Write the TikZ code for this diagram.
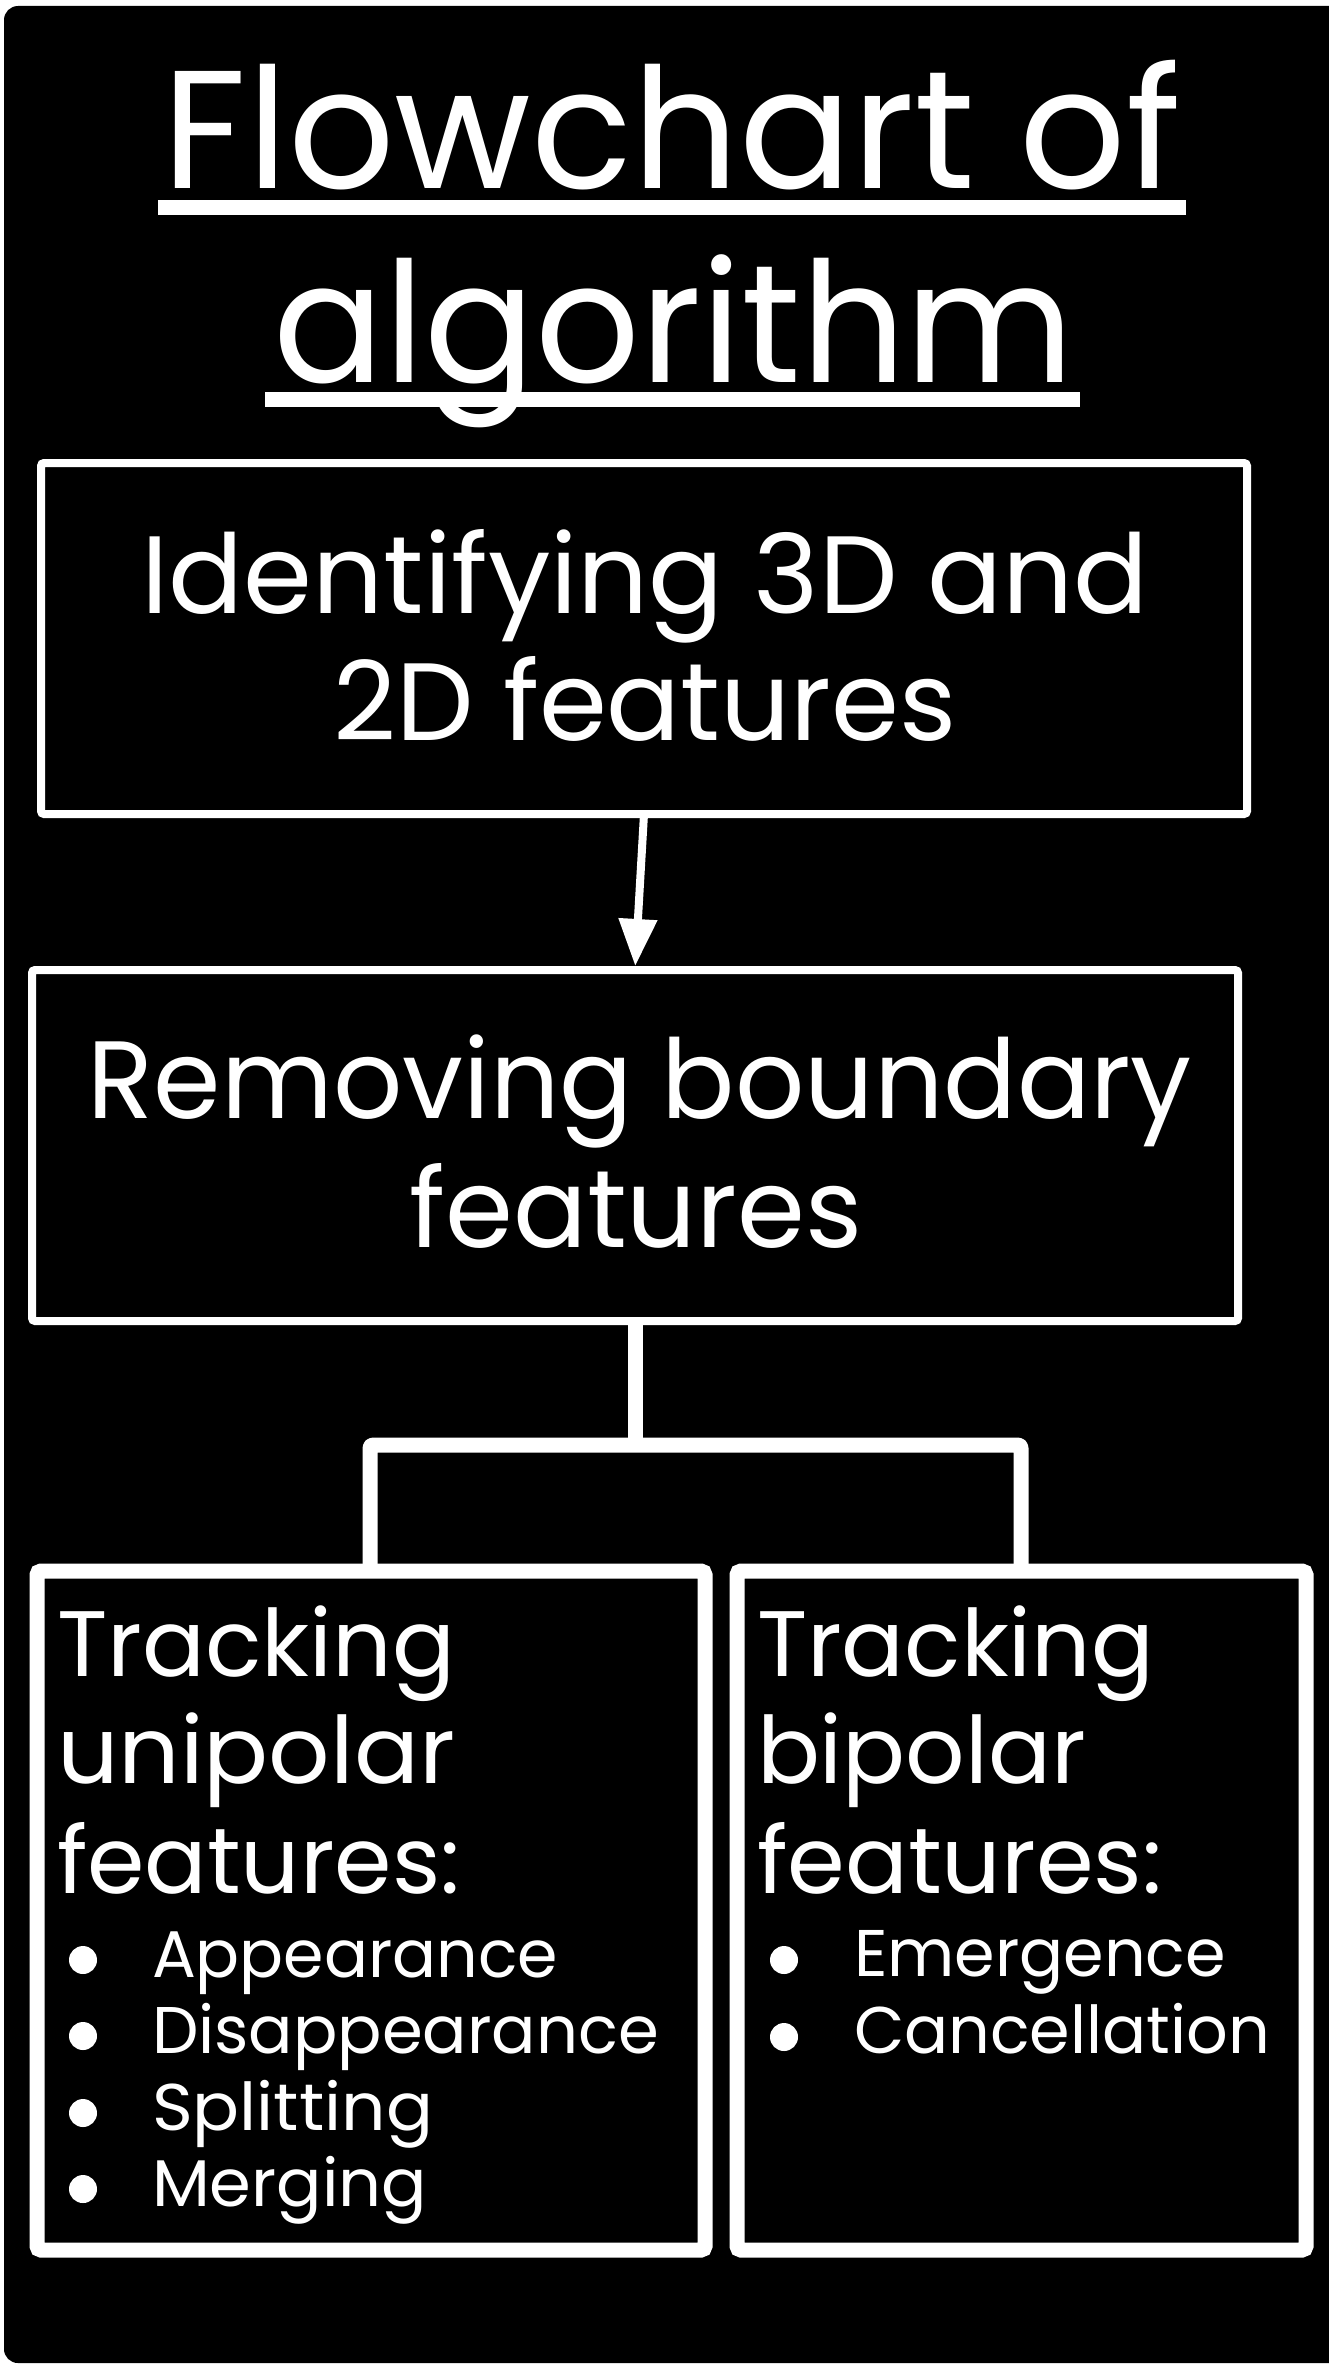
\documentclass[tikz,border=0pt]{standalone}
\usepackage{graphicx}
\usepackage{fontspec}
\setmainfont{Poppins}
\usetikzlibrary{arrows.meta}
\newcommand\fitw[3]{\resizebox{#2}{\height}{\fontsize{#1}{#1}\selectfont #3}}
\tikzset{
  thinbox/.style={draw=white, line width=8pt, rounded corners=3pt, inner sep=0pt, outer sep=0pt, anchor=north west},
  thickbox/.style={draw=white, line width=15pt, rounded corners=4pt, inner sep=0pt, outer sep=0pt, anchor=north west},
  txt/.style={text=white, inner sep=0pt, outer sep=0pt},
  arr/.style={draw=white, line width=8pt, shorten >=4pt, -{Triangle[width=37pt,length=47pt]}},
  tree/.style={draw=white, line width=15pt, line join=round, rounded corners=3pt},
  bullet/.style={fill=white}
}
\begin{document}
\begin{tikzpicture}[x=1pt,y=-1pt]
\useasboundingbox (0,0) rectangle (1329,2366);
\fill[black, rounded corners=14pt] (4,6) rectangle (1360,2363);

% title
\node[txt, anchor=base] (ttl1) at (672,188) {\fitw{168pt}{1018pt}{Flowchart of}};
\node[txt, anchor=base] (ttl2) at (674,382) {\fitw{168pt}{801pt}{algorithm}};
\fill[white] (158,200) rectangle (1186,215);
\fill[white] (265,392) rectangle (1080,407);

% boxes
\node[thinbox, minimum width=1206pt, minimum height=351pt] (b1) at (41,463) {};
\node[thinbox, minimum width=1206pt, minimum height=351pt] (b2) at (32,970) {};
\node[thickbox, minimum width=668pt, minimum height=679pt] (b3) at (37,1571) {};
\node[thickbox, minimum width=569pt, minimum height=679pt] (b4) at (737,1571) {};

% box texts
\node[txt, anchor=base] (t1a) at (645,613) {\fitw{110pt}{1007pt}{Identifying 3D and}};
\node[txt, anchor=base] (t1b) at (645,740) {\fitw{110pt}{623pt}{2D features}};
\node[txt, anchor=base] (t2a) at (640,1118) {\fitw{110pt}{1104pt}{Removing boundary}};
\node[txt, anchor=base] (t2b) at (636,1247) {\fitw{110pt}{453pt}{features}};

\node[txt, anchor=base west] (t3a) at (57,1676) {\fitw{93pt}{398pt}{Tracking}};
\node[txt, anchor=base west] (t3b) at (57,1783) {\fitw{93pt}{398pt}{unipolar}};
\node[txt, anchor=base west] (t3c) at (57,1893) {\fitw{93pt}{403pt}{features:}};
\node[txt, anchor=base west] (l3a) at (152,1977) {\fitw{66pt}{406pt}{Appearance}};
\node[txt, anchor=base west] (l3b) at (152,2053) {\fitw{66pt}{507pt}{Disappearance}};
\node[txt, anchor=base west] (l3c) at (152,2130) {\fitw{66pt}{281pt}{Splitting}};
\node[txt, anchor=base west] (l3d) at (152,2206) {\fitw{66pt}{275pt}{Merging}};

\node[txt, anchor=base west] (t4a) at (757,1676) {\fitw{93pt}{397pt}{Tracking}};
\node[txt, anchor=base west] (t4b) at (757,1783) {\fitw{93pt}{329pt}{bipolar}};
\node[txt, anchor=base west] (t4c) at (757,1893) {\fitw{93pt}{405pt}{features:}};
\node[txt, anchor=base west] (l4a) at (854,1976) {\fitw{66pt}{372pt}{Emergence}};
\node[txt, anchor=base west] (l4b) at (854,2053) {\fitw{66pt}{416pt}{Cancellation}};

% bullets
\fill[bullet] (83,1960) circle (14);
\fill[bullet] (83,2036) circle (14);
\fill[bullet] (83,2113) circle (14);
\fill[bullet] (83,2189) circle (14);
\fill[bullet] (784,1960) circle (14);
\fill[bullet] (784,2037) circle (14);

% connectors
\draw[arr] (b1.south) -- (b2.north);
\coordinate (j) at (635,1445);
\coordinate (xl) at (370,0);
\coordinate (xr) at (1021,0);
\draw[tree] (b2.south) -- (j);
\draw[tree] (b3.north -| xl) |- (j) -| (b4.north -| xr);
\end{tikzpicture}
\end{document}
